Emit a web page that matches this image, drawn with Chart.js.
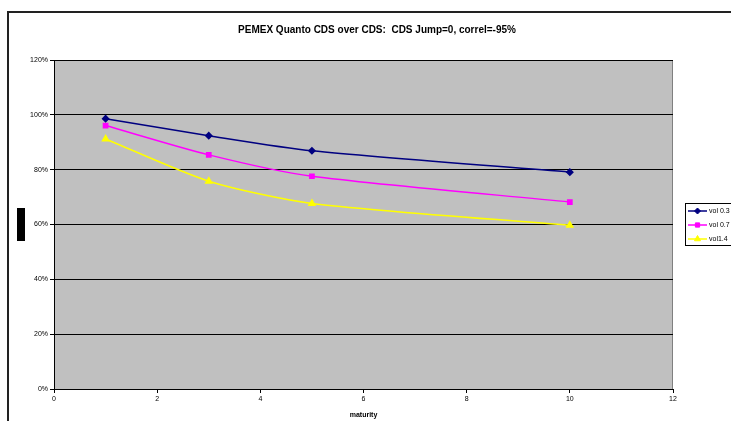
<!DOCTYPE html>
<html>
<head>
<meta charset="utf-8">
<script src="https://cdn.jsdelivr.net/npm/chart.js@4"></script>
<style>
  html, body { margin: 0; padding: 0; background: #fff; }
  #wrap { width: 731px; height: 421px; position: relative; }
</style>
</head>
<body>
<div id="wrap"><canvas id="chart" width="731" height="421"></canvas></div>
<script>
const maturities = [1, 3, 5, 10];
const vol03 = [0.986, 0.924, 0.869, 0.791];
const vol07 = [0.961, 0.854, 0.776, 0.682];
const vol14 = [0.912, 0.758, 0.677, 0.597];
const seriesNames = ['vol 0.3', 'vol 0.7', 'vol1.4'];
const titleText = 'PEMEX Quanto CDS over CDS:  CDS Jump=0, correl=-95%';
const xTitle = 'maturity';

const FONT = '"Liberation Sans", Arial, sans-serif';

function pts(vals) {
  return maturities.map((m, i) => ({ x: m, y: vals[i] }));
}

// background, frame, title, the black box and the legend
const decor = {
  id: 'decor',
  beforeDraw(chart) {
    const ctx = chart.ctx;
    const a = chart.chartArea;
    ctx.save();
    ctx.fillStyle = '#c0c0c0';
    ctx.fillRect(a.left, a.top, a.right - a.left, a.bottom - a.top);
    ctx.strokeStyle = '#808080';
    ctx.lineWidth = 1;
    ctx.strokeRect(a.left + 0.5, a.top + 0.5, a.right - a.left - 1, a.bottom - a.top);
    // outer frame
    ctx.strokeStyle = '#222';
    ctx.lineWidth = 2;
    ctx.beginPath();
    ctx.moveTo(8, 421);
    ctx.lineTo(8, 12);
    ctx.lineTo(731, 12);
    ctx.stroke();
    // title
    ctx.fillStyle = '#000';
    ctx.font = 'bold 10px ' + FONT;
    ctx.textAlign = 'center';
    ctx.textBaseline = 'middle';
    ctx.fillText(titleText, 377, 30);
    // y axis title block
    ctx.fillRect(17, 208, 8, 33);
    ctx.restore();
  },
  afterDraw(chart) {
    const ctx = chart.ctx;
    ctx.save();
    ctx.fillStyle = '#fff';
    ctx.strokeStyle = '#000';
    ctx.lineWidth = 1;
    ctx.fillRect(685.5, 203.5, 60, 42);
    ctx.strokeRect(685.5, 203.5, 60, 42);
    chart.data.datasets.forEach((ds, i) => {
      const y = 211 + i * 14;
      ctx.strokeStyle = ds.borderColor;
      ctx.fillStyle = ds.borderColor;
      ctx.lineWidth = 1.5;
      ctx.beginPath();
      ctx.moveTo(688, y);
      ctx.lineTo(707, y);
      ctx.stroke();
      ctx.lineWidth = 1;
      Chart.helpers.drawPoint(ctx, {
        pointStyle: ds.pointStyle, radius: ds.pointRadius, rotation: 0,
        borderWidth: 1
      }, 697.5, y);
      ctx.fillStyle = '#000';
      ctx.font = '7px ' + FONT;
      ctx.textAlign = 'left';
      ctx.textBaseline = 'middle';
      ctx.fillText(ds.label, 709, y + 0.5);
    });
    ctx.restore();
  }
};

function makeSet(label, vals, color, style, r) {
  return {
    label: label,
    data: pts(vals),
    borderColor: color,
    backgroundColor: color,
    pointBackgroundColor: color,
    pointBorderColor: color,
    pointStyle: style,
    pointRadius: r,
    borderWidth: 1.5,
    tension: 0.25
  };
}

new Chart(document.getElementById('chart').getContext('2d'), {
  type: 'line',
  data: {
    datasets: [
      makeSet(seriesNames[0], vol03, '#000080', 'rectRot', 3),
      makeSet(seriesNames[1], vol07, '#ff00ff', 'rect', 3),
      makeSet(seriesNames[2], vol14, '#ffff00', 'triangle', 3.5)
    ]
  },
  options: {
    responsive: false,
    animation: false,
    layout: { padding: { left: 0, top: 60, right: 58, bottom: 0 } },
    plugins: { legend: { display: false }, title: { display: false }, tooltip: { enabled: false } },
    scales: {
      x: {
        type: 'linear',
        min: 0, max: 12,
        ticks: { stepSize: 2, color: '#000', font: { family: FONT, size: 7 }, padding: 2 },
        grid: { drawOnChartArea: false, drawTicks: true, tickLength: 4, color: '#000' },
        border: { color: '#000', width: 1 },
        title: { display: true, text: xTitle, color: '#000', font: { family: FONT, size: 7, weight: 'bold' }, padding: { top: 0, bottom: 2 } },
        afterFit(s) { s.height = 32; }
      },
      y: {
        min: 0, max: 1.2,
        ticks: {
          stepSize: 0.2, color: '#000', font: { family: FONT, size: 7 }, padding: 2,
          callback: v => Math.round(v * 100) + '%'
        },
        grid: { color: '#000', lineWidth: 1, tickLength: 4 },
        border: { color: '#000', width: 1 },
        afterFit(s) { s.width = 54; }
      }
    }
  },
  plugins: [decor]
});
</script>
</body>
</html>
